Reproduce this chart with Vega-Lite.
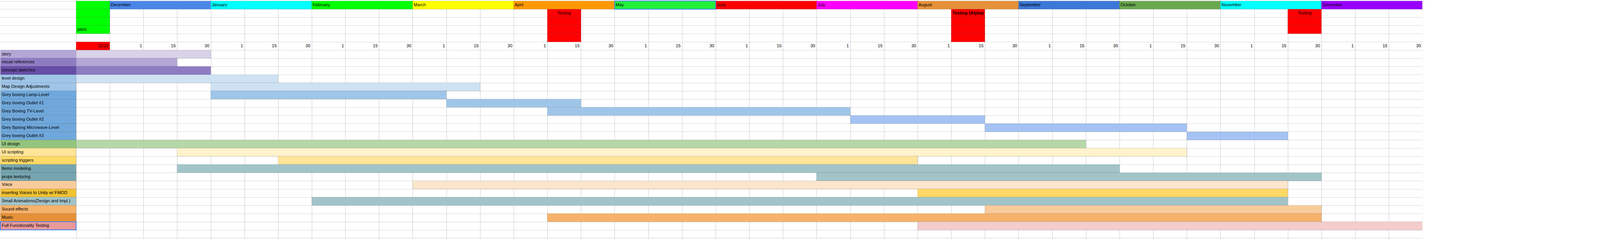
{
  "$schema": "https://vega.github.io/schema/vega-lite/v6.json",
  "width": "container",
  "height": 612,
  "autosize": {"type": "fit", "contains": "padding"},
  "padding": 0,
  "background": "#ffffff",
  "config": {
    "view": {"stroke": null},
    "axisX": {"grid": true, "gridColor": "#000000", "gridOpacity": 0.2, "gridWidth": 1, "labels": false, "ticks": false, "domain": false, "title": null, "zindex": 1},
    "axisY": {"grid": true, "gridColor": "#000000", "gridOpacity": 0.16, "gridWidth": 1, "labels": false, "ticks": false, "domain": false, "title": null, "zindex": 0, "tickBand": "extent"},
    "text": {"font": "Liberation Sans", "fill": "#000000", "baseline": "middle"},
    "rect": {"stroke": "#000000", "strokeOpacity": 0.14, "strokeWidth": 1}
  },
  "datasets": {
    "tasks": [
      {"task": "story", "start": 0, "end": 4},
      {"task": "visual references", "start": 0, "end": 3},
      {"task": "concept sketches", "start": 0, "end": 4},
      {"task": "level design", "start": 0, "end": 6},
      {"task": "Map Design Adjustments", "start": 4, "end": 12},
      {"task": "Grey boxing Lamp-Level", "start": 4, "end": 11},
      {"task": "Grey boxing Outlet #1", "start": 11, "end": 15},
      {"task": "Grey Boxing TV-Level", "start": 14, "end": 23},
      {"task": "Grey boxing Outlet #2", "start": 23, "end": 27},
      {"task": "Grey Bpxing Microwave-Level", "start": 27, "end": 33},
      {"task": "Grey boxing Outlet #3", "start": 33, "end": 36},
      {"task": "UI design", "start": 0, "end": 30},
      {"task": "UI scripting", "start": 3, "end": 33},
      {"task": "scripting triggers", "start": 6, "end": 25},
      {"task": "Items modeling", "start": 3, "end": 31},
      {"task": "props texturing", "start": 22, "end": 37},
      {"task": "Voice", "start": 10, "end": 36},
      {"task": "inserting Voices to Unity w/ FMOD", "start": 25, "end": 36},
      {"task": "Small Animations(Design and Impl.)", "start": 7, "end": 36},
      {"task": "Sound effects", "start": 27, "end": 37},
      {"task": "Music", "start": 14, "end": 37},
      {"task": "Full Functionality Testing", "start": 25, "end": 40}
    ],
    "months": [
      {"month": "December", "start": 1, "end": 4},
      {"month": "January", "start": 4, "end": 7},
      {"month": "February", "start": 7, "end": 10},
      {"month": "March", "start": 10, "end": 13},
      {"month": "April", "start": 13, "end": 16},
      {"month": "May", "start": 16, "end": 19},
      {"month": "June", "start": 19, "end": 22},
      {"month": "July", "start": 22, "end": 25},
      {"month": "August", "start": 25, "end": 28},
      {"month": "September", "start": 28, "end": 31},
      {"month": "October", "start": 31, "end": 34},
      {"month": "November", "start": 34, "end": 37},
      {"month": "December", "start": 37, "end": 40}
    ],
    "dates": [
      {"label": "11/23", "start": 0, "end": 1},
      {"label": "1", "start": 1, "end": 2}, {"label": "15", "start": 2, "end": 3}, {"label": "30", "start": 3, "end": 4},
      {"label": "1", "start": 4, "end": 5}, {"label": "15", "start": 5, "end": 6}, {"label": "30", "start": 6, "end": 7},
      {"label": "1", "start": 7, "end": 8}, {"label": "15", "start": 8, "end": 9}, {"label": "30", "start": 9, "end": 10},
      {"label": "1", "start": 10, "end": 11}, {"label": "15", "start": 11, "end": 12}, {"label": "30", "start": 12, "end": 13},
      {"label": "1", "start": 13, "end": 14}, {"label": "15", "start": 14, "end": 15}, {"label": "30", "start": 15, "end": 16},
      {"label": "1", "start": 16, "end": 17}, {"label": "15", "start": 17, "end": 18}, {"label": "30", "start": 18, "end": 19},
      {"label": "1", "start": 19, "end": 20}, {"label": "15", "start": 20, "end": 21}, {"label": "30", "start": 21, "end": 22},
      {"label": "1", "start": 22, "end": 23}, {"label": "15", "start": 23, "end": 24}, {"label": "30", "start": 24, "end": 25},
      {"label": "1", "start": 25, "end": 26}, {"label": "15", "start": 26, "end": 27}, {"label": "30", "start": 27, "end": 28},
      {"label": "1", "start": 28, "end": 29}, {"label": "15", "start": 29, "end": 30}, {"label": "30", "start": 30, "end": 31},
      {"label": "1", "start": 31, "end": 32}, {"label": "15", "start": 32, "end": 33}, {"label": "30", "start": 33, "end": 34},
      {"label": "1", "start": 34, "end": 35}, {"label": "15", "start": 35, "end": 36}, {"label": "30", "start": 36, "end": 37},
      {"label": "1", "start": 37, "end": 38}, {"label": "15", "start": 38, "end": 39}, {"label": "30", "start": 39, "end": 40}
    ],
    "milestones": [
      {"milestone": "pitch", "start": 0, "end": 1},
      {"milestone": "Testing", "start": 14, "end": 15},
      {"milestone": "Testing (Alpha)", "start": 26, "end": 27},
      {"milestone": "Testing", "start": 36, "end": 37}
    ]
  },
  "resolve": {"scale": {"fill": "independent"}},
  "layer": [
    {
      "data": {"name": "tasks"},
      "mark": {"type": "rect"},
      "encoding": {
        "x": {"field": "start", "type": "quantitative", "scale": {"domain": [-2.25, 45.2772], "nice": false, "zero": false}, "axis": {"values": [0,1,2,3,4,5,6,7,8,9,10,11,12,13,14,15,16,17,18,19,20,21,22,23,24,25,26,27,28,29,30,31,32,33,34,35,36,37,38,39,40]}},
        "x2": {"field": "end"},
        "y": {"field": "task", "type": "nominal", "sort": null, "scale": {"domain": ["months", "milestone 1", "milestone 2", "milestone 3", "spacer", "dates", "story", "visual references", "concept sketches", "level design", "Map Design Adjustments", "Grey boxing Lamp-Level", "Grey boxing Outlet #1", "Grey Boxing TV-Level", "Grey boxing Outlet #2", "Grey Bpxing Microwave-Level", "Grey boxing Outlet #3", "UI design", "UI scripting", "scripting triggers", "Items modeling", "props texturing", "Voice", "inserting Voices to Unity w/ FMOD", "Small Animations(Design and Impl.)", "Sound effects", "Music", "Full Functionality Testing", "blank"], "paddingInner": 0, "paddingOuter": 0.12}},
        "fill": {"field": "task", "type": "nominal", "legend": null, "scale": {
          "domain": ["story", "visual references", "concept sketches", "level design", "Map Design Adjustments", "Grey boxing Lamp-Level", "Grey boxing Outlet #1", "Grey Boxing TV-Level", "Grey boxing Outlet #2", "Grey Bpxing Microwave-Level", "Grey boxing Outlet #3", "UI design", "UI scripting", "scripting triggers", "Items modeling", "props texturing", "Voice", "inserting Voices to Unity w/ FMOD", "Small Animations(Design and Impl.)", "Sound effects", "Music", "Full Functionality Testing"],
          "range": ["#d9d2e9", "#b4a7d6", "#8e7cc3", "#cfe2f3", "#cfe2f3", "#9fc5e8", "#9fc5e8", "#9fc5e8", "#a4c2f4", "#a4c2f4", "#a4c2f4", "#b6d7a8", "#fff2cc", "#ffe599", "#a2c4c9", "#a2c4c9", "#fce5cd", "#ffd966", "#a2c4c9", "#f9cb9c", "#f6b26b", "#f4cccc"]}}
      }
    },
    {
      "data": {"name": "tasks"},
      "mark": {"type": "rect"},
      "encoding": {
        "x": {"datum": -2.25, "type": "quantitative"},
        "x2": {"datum": 0},
        "y": {"field": "task", "type": "nominal"},
        "fill": {"field": "task", "type": "nominal", "legend": null, "scale": {
          "domain": ["story", "visual references", "concept sketches", "level design", "Map Design Adjustments", "Grey boxing Lamp-Level", "Grey boxing Outlet #1", "Grey Boxing TV-Level", "Grey boxing Outlet #2", "Grey Bpxing Microwave-Level", "Grey boxing Outlet #3", "UI design", "UI scripting", "scripting triggers", "Items modeling", "props texturing", "Voice", "inserting Voices to Unity w/ FMOD", "Small Animations(Design and Impl.)", "Sound effects", "Music", "Full Functionality Testing"],
          "range": ["#b4a7d6", "#8e7cc3", "#674ea7", "#9fc5e8", "#9fc5e8", "#6fa8dc", "#6fa8dc", "#6fa8dc", "#6fa8dc", "#6fa8dc", "#6fa8dc", "#93c47d", "#ffe599", "#ffd966", "#76a5af", "#76a5af", "#f9cb9c", "#f1c232", "#a2c4c9", "#f6b26b", "#e69138", "#ea9999"]}}
      }
    },
    {
      "data": {"name": "months"},
      "mark": {"type": "rect"},
      "encoding": {
        "x": {"field": "start", "type": "quantitative"},
        "x2": {"field": "end"},
        "y": {"datum": "months", "type": "nominal"},
        "fill": {"field": "start", "type": "ordinal", "legend": null, "scale": {
          "domain": [1, 4, 7, 10, 13, 16, 19, 22, 25, 28, 31, 34, 37],
          "range": ["#4a86e8", "#00ffff", "#00ff00", "#ffff00", "#ff9900", "#22f03a", "#ff0000", "#ff00ff", "#e69138", "#3c78d8", "#6aa84f", "#00ffff", "#9900ff"]}}
      }
    },
    {
      "data": {"name": "milestones"},
      "transform": [{"filter": "datum.milestone === 'pitch'"}],
      "mark": {"type": "rect", "fill": "#00ff00"},
      "encoding": {"x": {"field": "start", "type": "quantitative"}, "x2": {"field": "end"}, "y": {"datum": "months", "type": "nominal"}}
    },
    {
      "data": {"name": "milestones"},
      "mark": {"type": "rect"},
      "encoding": {"x": {"field": "start", "type": "quantitative"}, "x2": {"field": "end"}, "y": {"datum": "milestone 1", "type": "nominal"},
        "fill": {"condition": {"test": "datum.milestone === 'pitch'", "value": "#00ff00"}, "value": "#ff0000"}}
    },
    {
      "data": {"name": "milestones"},
      "mark": {"type": "rect"},
      "encoding": {"x": {"field": "start", "type": "quantitative"}, "x2": {"field": "end"}, "y": {"datum": "milestone 2", "type": "nominal"},
        "fill": {"condition": {"test": "datum.milestone === 'pitch'", "value": "#00ff00"}, "value": "#ff0000"}}
    },
    {
      "data": {"name": "milestones"},
      "mark": {"type": "rect"},
      "encoding": {"x": {"field": "start", "type": "quantitative"}, "x2": {"field": "end"}, "y": {"datum": "milestone 3", "type": "nominal"},
        "fill": {"condition": {"test": "datum.milestone === 'pitch'", "value": "#00ff00"}, "value": "#ff0000"}}
    },
    {
      "data": {"name": "milestones"},
      "transform": [{"filter": "datum.milestone !== 'pitch' && datum.start < 30"}],
      "mark": {"type": "rect", "fill": "#ff0000"},
      "encoding": {"x": {"field": "start", "type": "quantitative"}, "x2": {"field": "end"}, "y": {"datum": "spacer", "type": "nominal"}}
    },
    {
      "data": {"name": "dates"},
      "transform": [{"filter": "datum.label === '11/23'"}],
      "mark": {"type": "rect", "fill": "#ff0000"},
      "encoding": {"x": {"field": "start", "type": "quantitative"}, "x2": {"field": "end"}, "y": {"datum": "dates", "type": "nominal"}}
    },
    {
      "data": {"values": [{}]},
      "mark": {"type": "rect", "fill": "#ffffff", "strokeOpacity": 0},
      "encoding": {"x": {"datum": 40, "type": "quantitative"}, "x2": {"datum": 45.2772}}
    },
    {
      "data": {"name": "months"},
      "mark": {"type": "text", "align": "left", "dx": {"expr": "3 * width / 4800"}, "fontSize": {"expr": "13 * width / 4800"}},
      "encoding": {"x": {"field": "start", "type": "quantitative"}, "y": {"datum": "months", "type": "nominal"}, "text": {"field": "month"}}
    },
    {
      "data": {"name": "milestones"},
      "transform": [{"filter": "datum.milestone === 'Testing'"}],
      "mark": {"type": "text", "align": "center", "dx": {"expr": "width / 47.5272 / 2"}, "fontSize": {"expr": "13 * width / 4800"}},
      "encoding": {"x": {"field": "start", "type": "quantitative"}, "y": {"datum": "milestone 1", "type": "nominal"}, "text": {"field": "milestone"}}
    },
    {
      "data": {"name": "milestones"},
      "transform": [{"filter": "datum.milestone === 'Testing (Alpha)'"}],
      "mark": {"type": "text", "align": "center", "dx": {"expr": "width / 47.5272 / 2"}, "fontWeight": "bold", "fontSize": {"expr": "13 * width / 4800"}},
      "encoding": {"x": {"field": "start", "type": "quantitative"}, "y": {"datum": "milestone 1", "type": "nominal"}, "text": {"field": "milestone"}}
    },
    {
      "data": {"name": "milestones"},
      "transform": [{"filter": "datum.milestone === 'pitch'"}],
      "mark": {"type": "text", "align": "left", "dx": {"expr": "4 * width / 4800"}, "fontSize": {"expr": "13 * width / 4800"}},
      "encoding": {"x": {"field": "start", "type": "quantitative"}, "y": {"datum": "milestone 3", "type": "nominal"}, "text": {"field": "milestone"}}
    },
    {
      "data": {"name": "dates"},
      "mark": {"type": "text", "align": "right", "dx": {"expr": "-4 * width / 4800"}, "fontSize": {"expr": "13 * width / 4800"}},
      "encoding": {"x": {"field": "end", "type": "quantitative"}, "y": {"datum": "dates", "type": "nominal"}, "text": {"field": "label"}}
    },
    {
      "data": {"name": "tasks"},
      "mark": {"type": "text", "align": "left", "dx": {"expr": "4 * width / 4800"}, "fontSize": {"expr": "13 * width / 4800"}},
      "encoding": {"x": {"datum": -2.25, "type": "quantitative"}, "y": {"field": "task", "type": "nominal"}, "text": {"field": "task"}}
    },
    {
      "data": {"name": "tasks"},
      "transform": [{"filter": "datum.task === 'Full Functionality Testing'"}],
      "mark": {"type": "rect", "fill": "#ffffff", "fillOpacity": 0, "stroke": "#4285f4", "strokeOpacity": 1, "strokeWidth": 2},
      "encoding": {"x": {"datum": -2.25, "type": "quantitative"}, "x2": {"datum": 0}, "y": {"field": "task", "type": "nominal"}}
    },
    {
      "data": {"name": "months"},
      "transform": [{"filter": "datum.month === 'May'"}],
      "mark": {"type": "rect", "fill": "#ffffff", "fillOpacity": 0, "stroke": "#4285f4", "strokeOpacity": 1, "strokeWidth": 2},
      "encoding": {"x": {"field": "start", "type": "quantitative"}, "x2": {"field": "end"}, "y": {"datum": "months", "type": "nominal"}}
    }
  ]
}
